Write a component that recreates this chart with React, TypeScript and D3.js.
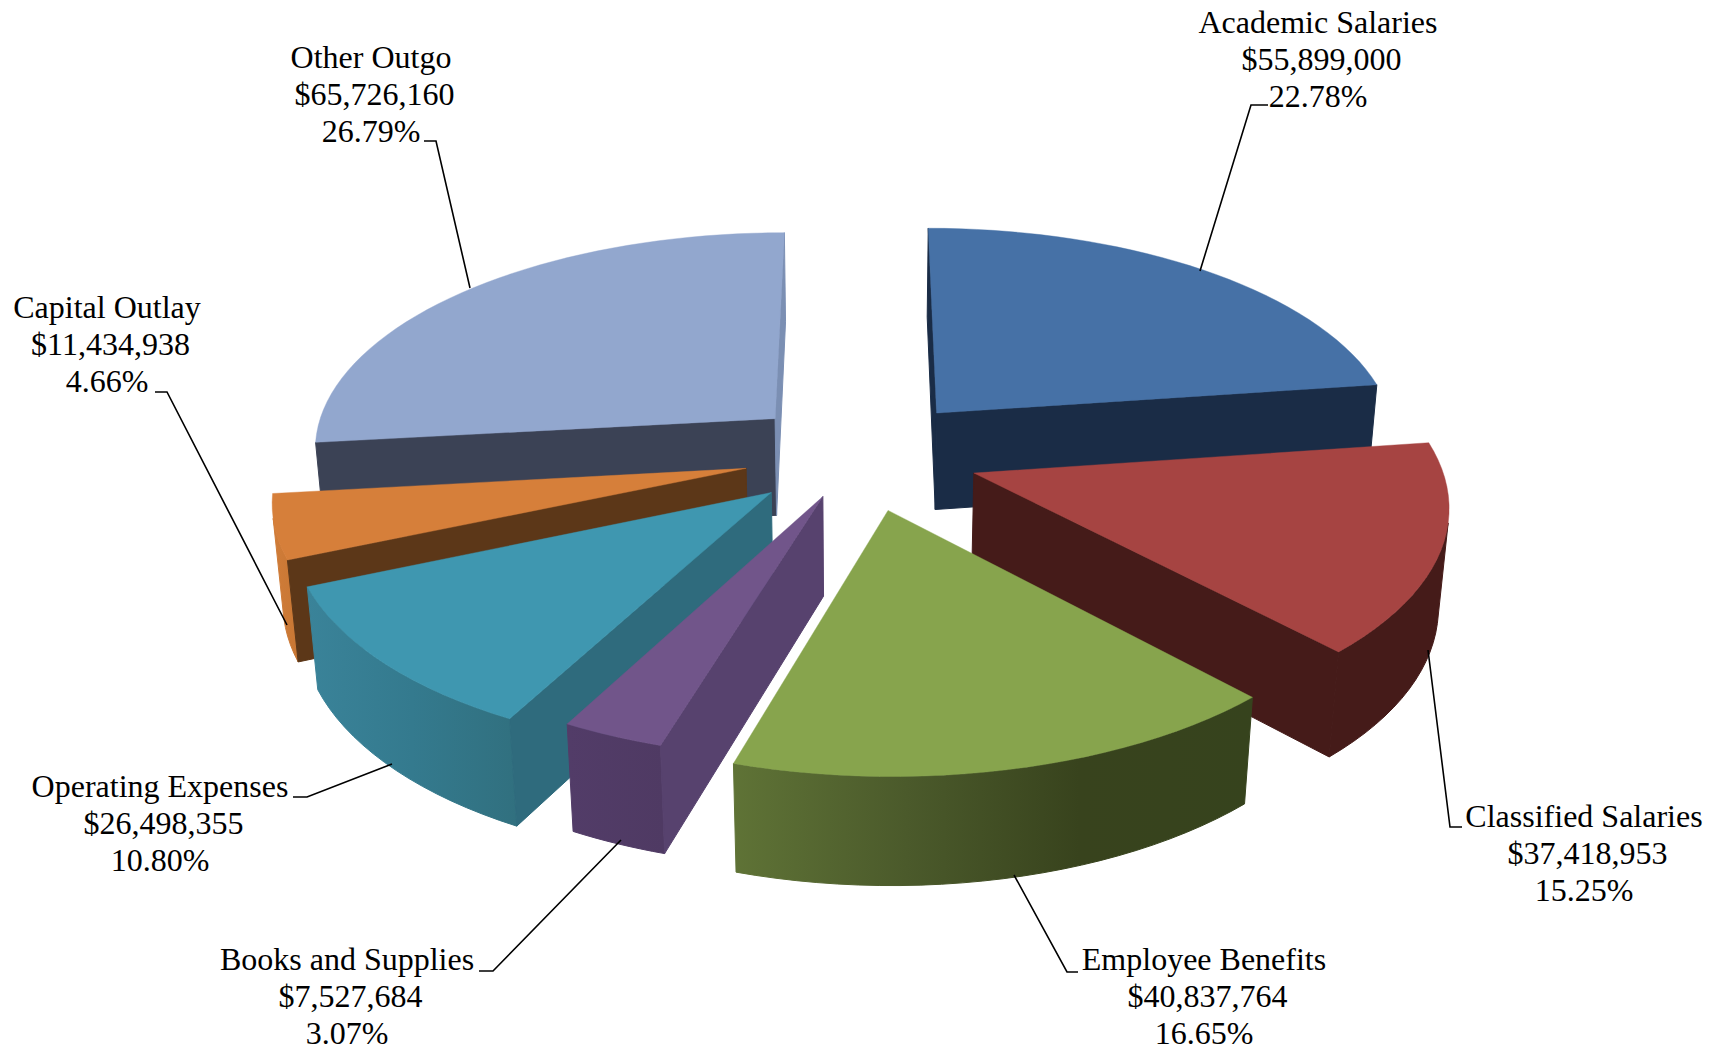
import React from "react";
import * as d3 from "d3";

// Budget categories and amounts, in clockwise order from twelve o'clock.
const categories = [
  "Academic Salaries",
  "Classified Salaries",
  "Employee Benefits",
  "Books and Supplies",
  "Operating Expenses",
  "Capital Outlay",
  "Other Outgo",
];
const amounts = [55899000, 37418953, 40837764, 7527684, 26498355, 11434938, 65726160];

// Face colours for each slice.
const topColors = ["#4671A6", "#A64442", "#87A44D", "#71558A", "#3F97B0", "#D67F3A", "#92A7CE"];
const startCutColors = ["#1A2C46", "#451B19", "#36431D", "#57426E", "#2F6B7D", "#5C3718", "#3B4255"];
const endCutColors = ["#1A2C46", "#451B19", "#36431D", "#57426E", "#2F6B7D", "#5C3718", "#7B8FB3"];
const wallStops: string[][] = [
  ["#1A2C46", "#1A2C46"],
  ["#451B19", "#451B19"],
  ["#5F7336", "#4B5A2B", "#38431D", "#36431D"],
  ["#523C68", "#4F3A63"],
  ["#3A8399", "#347A8E", "#31707F"],
  ["#D07C38", "#C87734"],
  ["#7B8FB3", "#7B8FB3"],
];

// How far each slice is pulled out, relative to the common explosion distance.
const explodeScale = [1, 1, 1, 0.8, 0.99, 0.98, 0.975];

// Label placement: text centre and first baseline, then the leader polyline.
const labelCentres = [1318, 1584, 1204, 347, 160, 107, 371];
const labelBaselines = [33, 827, 970, 970, 797, 318, 68];
const leaders: [number, number][][] = [
  [[1268, 105], [1251, 105], [1200, 271]],
  [[1462, 827], [1450, 827], [1428, 650]],
  [[1078, 972], [1067, 972], [1014, 875]],
  [[479, 971], [493, 971], [621, 840]],
  [[293, 797], [307, 797], [392, 764]],
  [[155, 392], [167, 392], [287, 625]],
  [[424, 141], [436, 141], [470, 288]],
];

const LINE_GAP = 36.8;
const MONEY_NUDGE = 3.5;
const WIDTH = 1718;
const HEIGHT = 1051;

// Perspective camera over the pie plane: u to the right, v toward the viewer,
// z is depth below the top surface (0 on top, 1 at the bottom).
const CX = 860.1;
const CY = 454.2;
const SCALE_U = 464.4;
const SCALE_V = 217.5;
const SCALE_Z = 99.8;
const TILT = 0.125;
const DEPTH_PERSPECTIVE = 0.018;
const EXPLODE = 0.257;

type Pt = [number, number];

function project(u: number, v: number, z: number): Pt {
  const w = 1 - TILT * v + DEPTH_PERSPECTIVE * z;
  return [CX + (SCALE_U * u) / w, CY + (SCALE_V * v + SCALE_Z * z) / w];
}

const line = d3.line<Pt>().x((d) => d[0]).y((d) => d[1]);
const fmtMoney = d3.format("$,");
const fmtPct = d3.format(".2%");
const total = d3.sum(amounts);

// Signed area of a quad; negative means the outer side faces the camera.
function signedArea(pts: Pt[]): number {
  let a = 0;
  pts.forEach((p, i) => {
    const q = pts[(i + 1) % pts.length];
    a += p[0] * q[1] - q[0] * p[1];
  });
  return a / 2;
}

type Face = { d: string; fill: string };

function buildSlice(arc: d3.PieArcDatum<number>, i: number) {
  const mid = (arc.startAngle + arc.endAngle) / 2;
  const e = EXPLODE * explodeScale[i];
  const ou = e * Math.sin(mid);
  const ov = -e * Math.cos(mid);

  const steps = Math.max(8, Math.round(((arc.endAngle - arc.startAngle) / (2 * Math.PI)) * 160));
  const angles = d3.range(steps + 1).map((k) => arc.startAngle + ((arc.endAngle - arc.startAngle) * k) / steps);
  const rim = angles.map((a) => [ou + Math.sin(a), ov - Math.cos(a)] as Pt);

  const quad = (a: Pt, b: Pt): Pt[] => [
    project(a[0], a[1], 0),
    project(b[0], b[1], 0),
    project(b[0], b[1], 1),
    project(a[0], a[1], 1),
  ];
  const faces: Face[] = [];
  const apex: Pt = [ou, ov];

  const startQuad = quad(apex, rim[0]);
  if (signedArea(startQuad) < 0) {
    faces.push({ d: line(startQuad)! + "Z", fill: startCutColors[i] });
  }
  const endQuad = quad(rim[steps], apex);
  if (signedArea(endQuad) < 0) {
    faces.push({ d: line(endQuad)! + "Z", fill: endCutColors[i] });
  }

  // Contiguous camera-facing runs of the curved outer wall.
  const walls: { d: string; x0: number; x1: number }[] = [];
  let run: Pt[] = [];
  const flush = () => {
    if (run.length > 1) {
      const top = run.map((p) => project(p[0], p[1], 0));
      const bottom = run.map((p) => project(p[0], p[1], 1)).reverse();
      const outline = top.concat(bottom);
      const xs = outline.map((p) => p[0]);
      walls.push({ d: line(outline)! + "Z", x0: d3.min(xs)!, x1: d3.max(xs)! });
    }
    run = [];
  };
  for (let k = 0; k < steps; k++) {
    if (signedArea(quad(rim[k], rim[k + 1])) < 0) {
      if (run.length === 0) run.push(rim[k]);
      run.push(rim[k + 1]);
    } else {
      flush();
    }
  }
  flush();

  const topOutline = [apex, ...rim].map((p) => project(p[0], p[1], 0));
  return { i, mid, faces, walls, top: line(topOutline)! + "Z" };
}

export default function App() {
  const arcs = d3.pie<number>().sort(null)(amounts);
  const slices = arcs
    .map((a, i) => buildSlice(a, i))
    .sort((a, b) => d3.descending(Math.cos(a.mid), Math.cos(b.mid)));

  return (
    <svg
      width={WIDTH}
      height={HEIGHT}
      viewBox={`0 0 ${WIDTH} ${HEIGHT}`}
      style={{ position: "absolute", left: 0, top: 0, background: "#fff" }}
    >
      <defs>
        {slices.flatMap((s) =>
          s.walls.map((w, j) => (
            <linearGradient
              key={`${s.i}-${j}`}
              id={`wall-${s.i}-${j}`}
              gradientUnits="userSpaceOnUse"
              x1={w.x0}
              x2={w.x1}
              y1={0}
              y2={0}
            >
              {wallStops[s.i].map((c, k, all) => (
                <stop key={k} offset={k / (all.length - 1)} stopColor={c} />
              ))}
            </linearGradient>
          ))
        )}
      </defs>

      {slices.map((s) => (
        <g key={s.i}>
          {s.walls.map((w, j) => (
            <path
              key={j}
              d={w.d}
              fill={`url(#wall-${s.i}-${j})`}
              stroke={`url(#wall-${s.i}-${j})`}
              strokeWidth={1}
            />
          ))}
          {s.faces.map((f, j) => (
            <path key={j} d={f.d} fill={f.fill} stroke={f.fill} strokeWidth={1} />
          ))}
          <path d={s.top} fill={topColors[s.i]} stroke={topColors[s.i]} strokeWidth={0.4} />
        </g>
      ))}

      {leaders.map((pts, i) => (
        <path key={i} d={line(pts)!} fill="none" stroke="#000" strokeWidth={1.6} />
      ))}

      {categories.map((name, i) => (
        <text
          key={name}
          x={labelCentres[i]}
          y={labelBaselines[i]}
          textAnchor="middle"
          fontFamily="'Liberation Serif', serif"
          fontSize={32}
          fill="#000"
        >
          <tspan x={labelCentres[i]}>{name}</tspan>
          <tspan x={labelCentres[i] + MONEY_NUDGE} dy={LINE_GAP}>{fmtMoney(amounts[i])}</tspan>
          <tspan x={labelCentres[i]} dy={LINE_GAP}>{fmtPct(amounts[i] / total)}</tspan>
        </text>
      ))}
    </svg>
  );
}
